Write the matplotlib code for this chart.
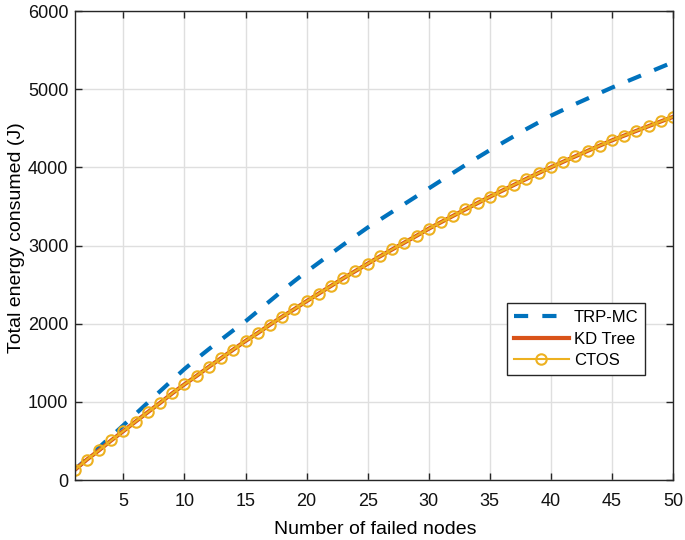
import numpy as np
import matplotlib
matplotlib.use("Agg")
import matplotlib.pyplot as plt

# Number of failed nodes
failed_nodes = list(range(1, 51))

# Total energy consumed (J)
trp_mc = [130, 270, 415, 558, 700, 845, 990, 1135, 1278, 1420,
          1550, 1675, 1795, 1915, 2030, 2160, 2290, 2420, 2545, 2665,
          2780, 2895, 3010, 3120, 3230, 3330, 3430, 3530, 3630, 3730,
          3830, 3930, 4030, 4125, 4220, 4310, 4400, 4490, 4575, 4660,
          4735, 4810, 4880, 4950, 5020, 5085, 5150, 5215, 5280, 5345]
ctos = [127, 260, 380, 506, 626, 748, 868, 986, 1109, 1224,
        1333, 1448, 1558, 1669, 1779, 1880, 1987, 2089, 2186, 2288,
        2385, 2483, 2580, 2674, 2767, 2860, 2949, 3037, 3124, 3215,
        3298, 3380, 3462, 3543, 3623, 3700, 3777, 3853, 3928, 4000,
        4071, 4141, 4210, 4278, 4345, 4406, 4467, 4527, 4587, 4646]
kd_tree = list(ctos)

plt.rcParams["font.family"] = ["Liberation Sans", "DejaVu Sans"]

fig = plt.figure(figsize=(6.85, 5.4), dpi=100)
ax = fig.add_axes([0.1088, 0.1111, 0.8737, 0.8685])

ax.plot(failed_nodes, trp_mc, color="#0072BD", lw=3, ls=(0, (3.4, 3.4)), label="TRP-MC")
ax.plot(failed_nodes, kd_tree, color="#D95319", lw=3, label="KD Tree")
ax.plot(failed_nodes, ctos, color="#EDB120", lw=1.5, marker="o", ms=7.5,
        mfc="none", mec="#EDB120", mew=1.5, label="CTOS")

ax.set_xlim(1, 50)
ax.set_ylim(0, 6000)
ax.set_xticks(range(5, 51, 5))
ax.set_yticks(range(0, 6001, 1000))
ax.grid(True, color="#dfdfdf", lw=1)
ax.set_axisbelow(True)
ax.tick_params(direction="in", top=True, right=True, labelsize=13, length=5,
               color="#262626", labelcolor="#111111", width=1)
ax.tick_params(axis="x", pad=9.5)
ax.tick_params(axis="y", pad=4.5)
for s in ax.spines.values():
    s.set_color("#262626")
    s.set_linewidth(1)

ax.set_xlabel("Number of failed nodes", fontsize=14)
ax.set_ylabel("Total energy consumed (J)", fontsize=14)
ax.xaxis.set_label_coords(0.502, -0.087)
ax.yaxis.set_label_coords(-0.083, 0.517)

leg = ax.legend(loc="lower left", bbox_to_anchor=(0.7226, 0.2239), fontsize=12,
                fancybox=False, edgecolor="#262626", framealpha=1, borderaxespad=0,
                handlelength=3.3, borderpad=0.4, labelspacing=0.4, handletextpad=0.3)
leg.get_frame().set_linewidth(1)

fig.savefig("out.png", dpi=100)
